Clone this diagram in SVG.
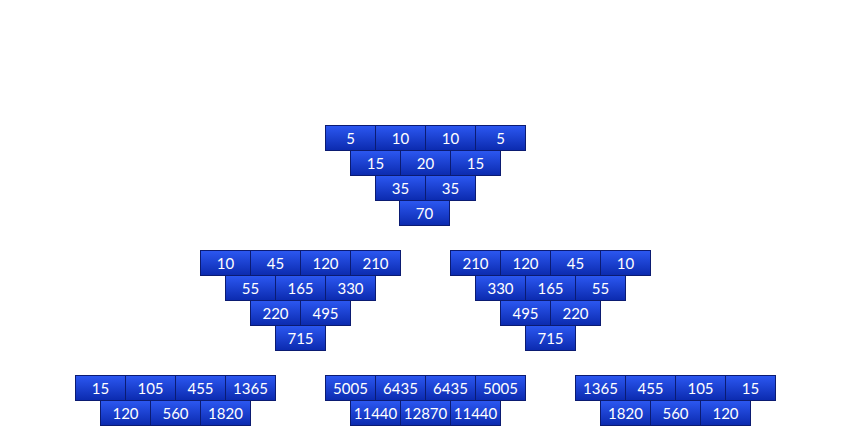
<svg xmlns="http://www.w3.org/2000/svg" width="851" height="426" viewBox="0 0 851 426">
<defs>
<linearGradient id="g" x1="0" y1="0" x2="0" y2="1">
<stop offset="0" stop-color="#2c58f2"/>
<stop offset="1" stop-color="#0b2aae"/>
</linearGradient>
<style>
rect{fill:url(#g);stroke:#0b1b72;stroke-width:1}
text{fill:#fff;font-family:"Lato","DejaVu Sans",sans-serif;font-size:15px;text-anchor:middle;dominant-baseline:central}
</style>
</defs>
<rect x="0" y="0" width="851" height="426" style="fill:#fff;stroke:none"/>
<g id="tri-top">
<rect x="325.5" y="125.5" width="50" height="25"/><text x="350.5" y="138">5</text>
<rect x="375.5" y="125.5" width="50" height="25"/><text x="400.5" y="138">10</text>
<rect x="425.5" y="125.5" width="50" height="25"/><text x="450.5" y="138">10</text>
<rect x="475.5" y="125.5" width="50" height="25"/><text x="500.5" y="138">5</text>
<rect x="350.5" y="150.5" width="50" height="25"/><text x="375.5" y="163">15</text>
<rect x="400.5" y="150.5" width="50" height="25"/><text x="425.5" y="163">20</text>
<rect x="450.5" y="150.5" width="50" height="25"/><text x="475.5" y="163">15</text>
<rect x="375.5" y="175.5" width="50" height="25"/><text x="400.5" y="188">35</text>
<rect x="425.5" y="175.5" width="50" height="25"/><text x="450.5" y="188">35</text>
<rect x="399.5" y="200.5" width="50" height="25"/><text x="424.5" y="213">70</text>
</g>
<g id="tri-mid-left">
<rect x="200.5" y="250.5" width="50" height="25"/><text x="225.5" y="263">10</text>
<rect x="250.5" y="250.5" width="50" height="25"/><text x="275.5" y="263">45</text>
<rect x="300.5" y="250.5" width="50" height="25"/><text x="325.5" y="263">120</text>
<rect x="350.5" y="250.5" width="50" height="25"/><text x="375.5" y="263">210</text>
<rect x="225.5" y="275.5" width="50" height="25"/><text x="250.5" y="288">55</text>
<rect x="275.5" y="275.5" width="50" height="25"/><text x="300.5" y="288">165</text>
<rect x="325.5" y="275.5" width="50" height="25"/><text x="350.5" y="288">330</text>
<rect x="250.5" y="300.5" width="50" height="25"/><text x="275.5" y="313">220</text>
<rect x="300.5" y="300.5" width="50" height="25"/><text x="325.5" y="313">495</text>
<rect x="275.5" y="325.5" width="50" height="25"/><text x="300.5" y="338">715</text>
</g>
<g id="tri-mid-right">
<rect x="450.5" y="250.5" width="50" height="25"/><text x="475.5" y="263">210</text>
<rect x="500.5" y="250.5" width="50" height="25"/><text x="525.5" y="263">120</text>
<rect x="550.5" y="250.5" width="50" height="25"/><text x="575.5" y="263">45</text>
<rect x="600.5" y="250.5" width="50" height="25"/><text x="625.5" y="263">10</text>
<rect x="475.5" y="275.5" width="50" height="25"/><text x="500.5" y="288">330</text>
<rect x="525.5" y="275.5" width="50" height="25"/><text x="550.5" y="288">165</text>
<rect x="575.5" y="275.5" width="50" height="25"/><text x="600.5" y="288">55</text>
<rect x="500.5" y="300.5" width="50" height="25"/><text x="525.5" y="313">495</text>
<rect x="550.5" y="300.5" width="50" height="25"/><text x="575.5" y="313">220</text>
<rect x="525.5" y="325.5" width="50" height="25"/><text x="550.5" y="338">715</text>
</g>
<g id="tri-bot-left">
<rect x="75.5" y="375.5" width="50" height="25"/><text x="100.5" y="388">15</text>
<rect x="125.5" y="375.5" width="50" height="25"/><text x="150.5" y="388">105</text>
<rect x="175.5" y="375.5" width="50" height="25"/><text x="200.5" y="388">455</text>
<rect x="225.5" y="375.5" width="50" height="25"/><text x="250.5" y="388">1365</text>
<rect x="100.5" y="400.5" width="50" height="25"/><text x="125.5" y="413">120</text>
<rect x="150.5" y="400.5" width="50" height="25"/><text x="175.5" y="413">560</text>
<rect x="200.5" y="400.5" width="50" height="25"/><text x="225.5" y="413">1820</text>
</g>
<g id="tri-bot-mid">
<rect x="325.5" y="375.5" width="50" height="25"/><text x="350.5" y="388">5005</text>
<rect x="375.5" y="375.5" width="50" height="25"/><text x="400.5" y="388">6435</text>
<rect x="425.5" y="375.5" width="50" height="25"/><text x="450.5" y="388">6435</text>
<rect x="475.5" y="375.5" width="50" height="25"/><text x="500.5" y="388">5005</text>
<rect x="350.5" y="400.5" width="50" height="25"/><text x="375.5" y="413">11440</text>
<rect x="400.5" y="400.5" width="50" height="25"/><text x="425.5" y="413">12870</text>
<rect x="450.5" y="400.5" width="50" height="25"/><text x="475.5" y="413">11440</text>
</g>
<g id="tri-bot-right">
<rect x="575.5" y="375.5" width="50" height="25"/><text x="600.5" y="388">1365</text>
<rect x="625.5" y="375.5" width="50" height="25"/><text x="650.5" y="388">455</text>
<rect x="675.5" y="375.5" width="50" height="25"/><text x="700.5" y="388">105</text>
<rect x="725.5" y="375.5" width="50" height="25"/><text x="750.5" y="388">15</text>
<rect x="600.5" y="400.5" width="50" height="25"/><text x="625.5" y="413">1820</text>
<rect x="650.5" y="400.5" width="50" height="25"/><text x="675.5" y="413">560</text>
<rect x="700.5" y="400.5" width="50" height="25"/><text x="725.5" y="413">120</text>
</g>
<g id="connectors"></g>
</svg>
